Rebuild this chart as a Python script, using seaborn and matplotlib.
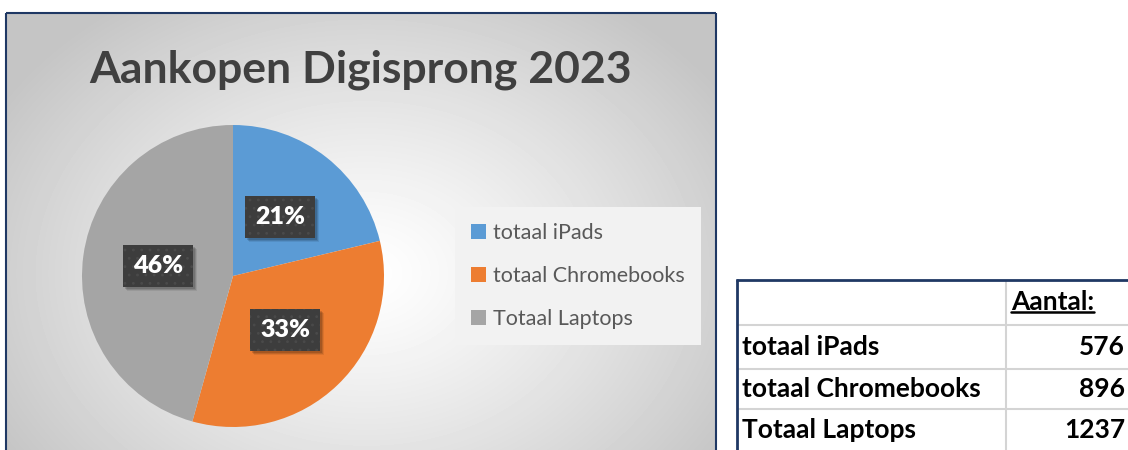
import matplotlib
matplotlib.use("Agg")
import matplotlib.pyplot as plt
from matplotlib.lines import Line2D
from matplotlib.patches import Rectangle
import numpy as np
import seaborn as sns

# data
categories = ["totaal iPads", "totaal Chromebooks", "Totaal Laptops"]
aantal = [576, 896, 1237]
colors = ["#5B9BD5", "#ED7D31", "#A5A5A5"]
title = "Aankopen Digisprong 2023"
table_header = "Aantal:"

W, H = 1128, 450

sns.set_theme(style="white")
plt.rcParams["font.family"] = ["Lato", "DejaVu Sans"]
plt.rcParams["hatch.linewidth"] = 0.8


def fx(x):
    return x / W


def fy(y):
    return 1 - y / H


def hline(y, x0, x1, color, lw):
    fig.add_artist(Line2D([fx(x0), fx(x1)], [fy(y), fy(y)], transform=fig.transFigure,
                          color=color, lw=lw, solid_capstyle="butt"))


def vline(x, y0, y1, color, lw):
    fig.add_artist(Line2D([fx(x), fx(x)], [fy(y0), fy(y1)], transform=fig.transFigure,
                          color=color, lw=lw, solid_capstyle="butt"))


fig = plt.figure(figsize=(W / 100, H / 100), dpi=100)
fig.patch.set_facecolor("white")

# chart panel with a soft radial gradient
bg = fig.add_axes([fx(6), 0, fx(716) - fx(6), fy(13)])
yy, xx = np.mgrid[0:437, 0:710]
d = np.hypot((xx - 360) / 430, (yy - 260) / 330)
shade = 1 - 0.23 * np.clip(d, 0, 1) ** 1.2
bg.imshow(shade, cmap="gray", vmin=0, vmax=1, aspect="auto", interpolation="bilinear")
bg.axis("off")

vline(6, 13, 450, "#1F3864", 1.5)
vline(716, 13, 450, "#1F3864", 1.5)
hline(13, 6, 716, "#1F3864", 1.5)

fig.text(fx(361), fy(82), title, ha="center", va="baseline", fontsize=32,
         fontweight="bold", color="#404040")

# pie
ax = fig.add_axes([fx(82), fy(427), fx(384) - fx(82), fy(125) - fy(427)])
ax.patch.set_visible(False)
wedges, texts, autotexts = ax.pie(
    aantal, colors=colors, startangle=90, counterclock=False,
    autopct="%1.0f%%", pctdistance=0.5,
    textprops=dict(color="white", fontsize=18, fontweight="heavy", zorder=5),
    wedgeprops=dict(linewidth=0),
)
ax.set_xlim(-1, 1)
ax.set_ylim(-1, 1)
for t in autotexts:
    t.set_bbox(dict(boxstyle="square,pad=0.4", linewidth=0, facecolor="#3D3D3D",
                    edgecolor="#4A4A4A", hatch=".."))

leg = fig.legend(
    wedges, categories, loc="center", bbox_to_anchor=(fx(578), fy(276)),
    frameon=True, fancybox=False, facecolor="#F2F2F2", edgecolor="none", framealpha=1,
    fontsize=15.5, labelcolor="#595959", handlelength=0.7, handleheight=0.7,
    handletextpad=0.35, labelspacing=1.05, borderpad=0.75, borderaxespad=0,
)

# table
grid = "#D4D4D4"
for y in [325, 369, 409]:
    hline(y, 737, 1128, grid, 1.5)
vline(1006, 280, 450, grid, 1.5)
hline(280, 736, 1128, "#1F3864", 2)
vline(737, 279, 450, "#1F3864", 2)

tfont = dict(fontsize=19, fontweight="bold", color="black", va="center")
head = fig.text(fx(1011), fy(302), table_header, ha="left", **tfont)
for yc, name, val in zip([347, 389, 430], categories, aantal):
    fig.text(fx(742), fy(yc), name, ha="left", **tfont)
    fig.text(fx(1125), fy(yc), str(val), ha="right", **tfont)

fig.canvas.draw()
inv = fig.transFigure.inverted()

# underline the header
bb = head.get_window_extent().transformed(inv)
fig.add_artist(Line2D([bb.x0, bb.x1], [bb.y0 + 2 / H, bb.y0 + 2 / H],
                      transform=fig.transFigure, color="black", lw=1.8))

# soft drop shadow behind each label box
for t in autotexts:
    pb = t.get_bbox_patch().get_window_extent()
    for k, a in [(4, 0.08), (3, 0.12), (2, 0.14)]:
        sb = pb.translated(k, -k).transformed(inv)
        ax.add_artist(Rectangle((sb.x0, sb.y0), sb.width, sb.height, transform=fig.transFigure,
                                facecolor="black", alpha=a, linewidth=0, zorder=4))

fig.savefig("out.png", dpi=100)
